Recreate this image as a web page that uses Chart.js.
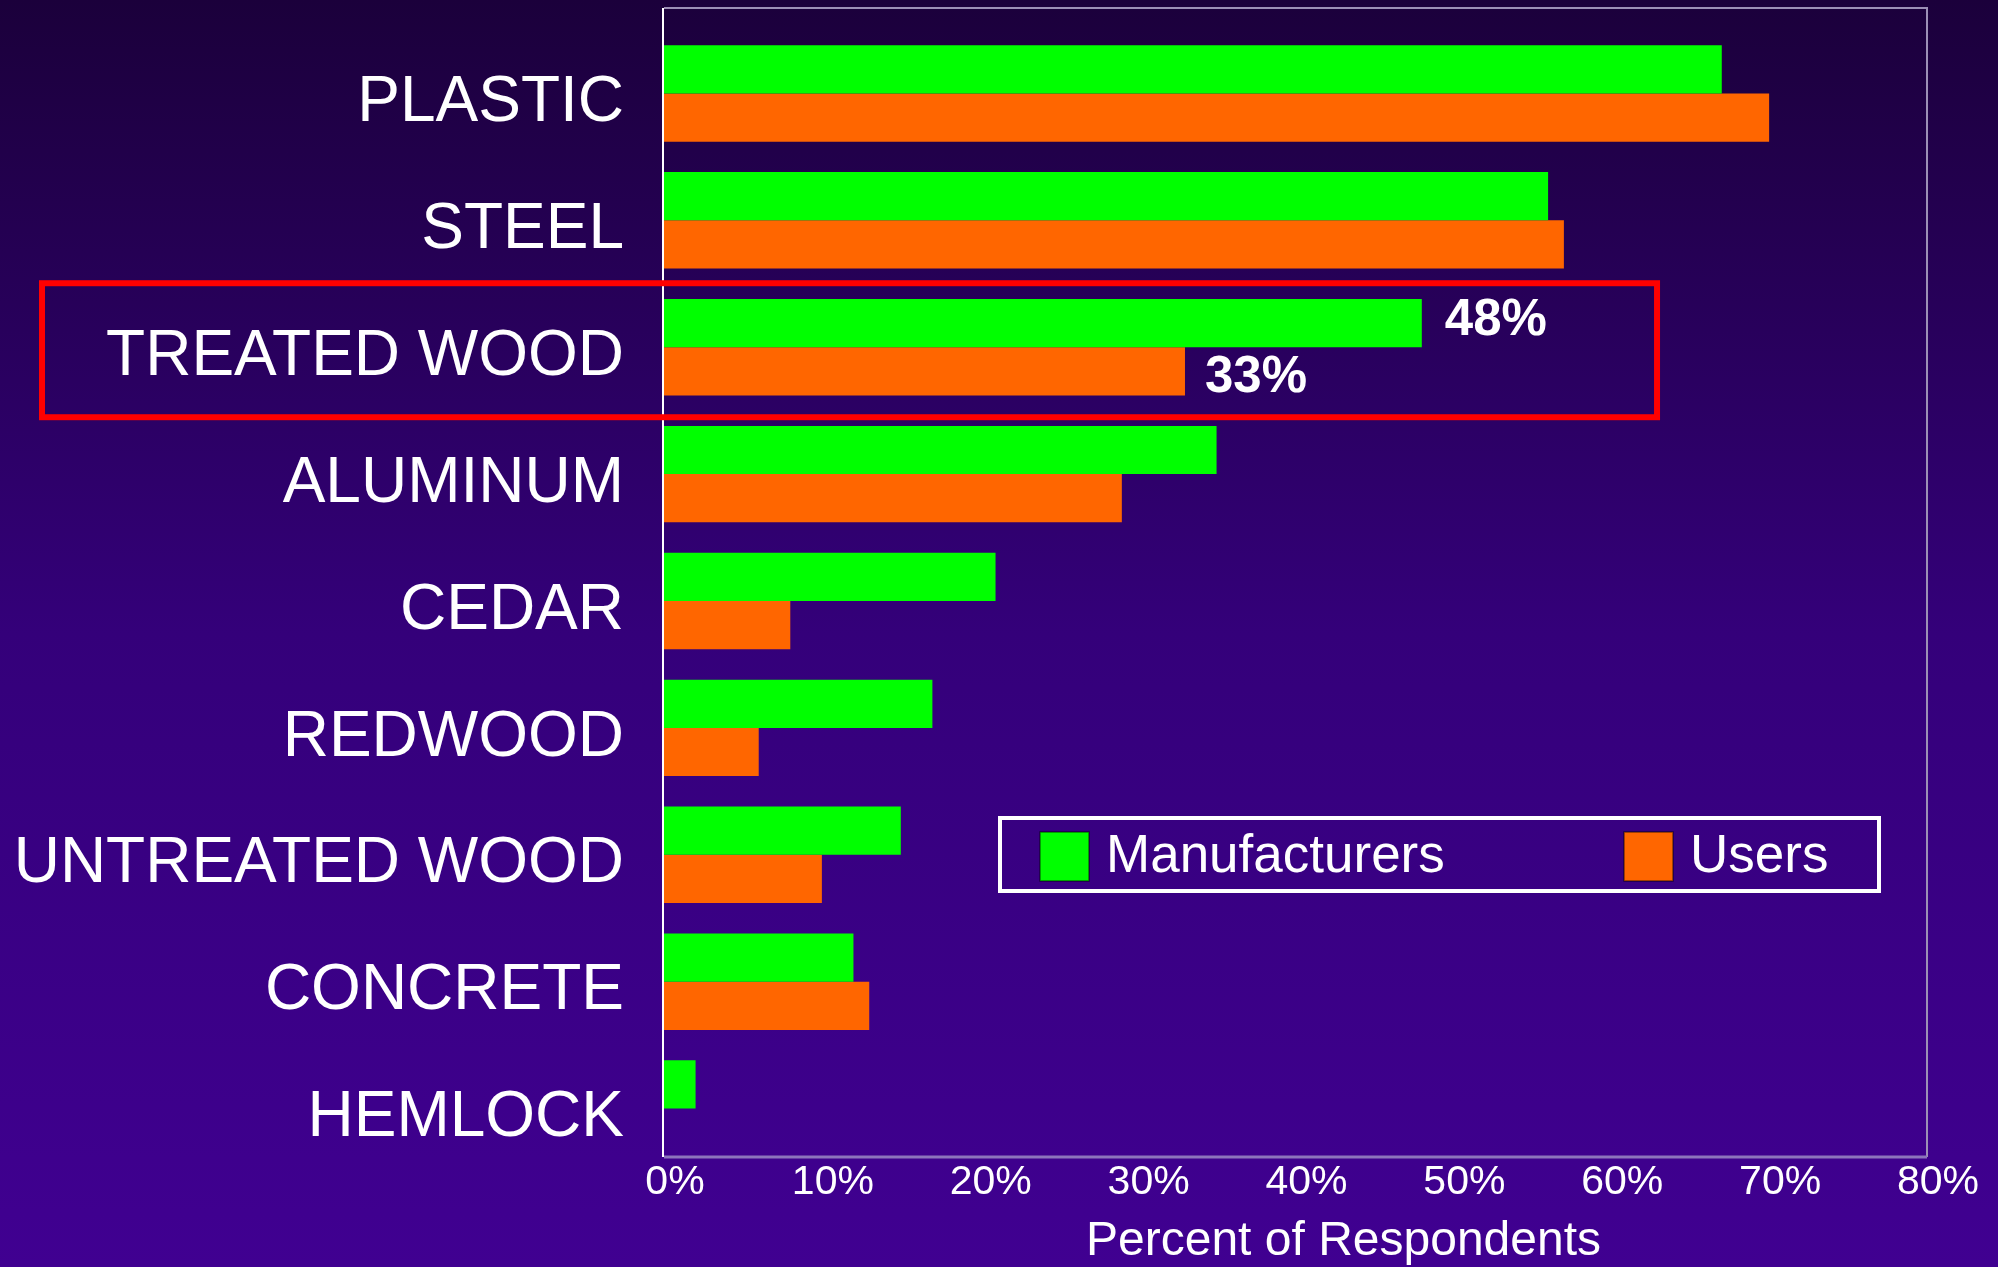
<!DOCTYPE html>
<html>
<head>
<meta charset="utf-8">
<title>Materials</title>
<script src="https://cdn.jsdelivr.net/npm/chart.js@4.4.1/dist/chart.umd.min.js"></script>
<style>
  body { margin: 0; background: #2a0066; }
  #myChart { display: block; }
</style>
</head>
<body>
<canvas id="myChart" width="1998" height="1267"></canvas>
<script>
const categories = [
    'PLASTIC',
    'STEEL',
    'TREATED WOOD',
    'ALUMINUM',
    'CEDAR',
    'REDWOOD',
    'UNTREATED WOOD',
    'CONCRETE',
    'HEMLOCK',
];

const manufacturers = [67, 56, 48, 35, 21, 17, 15, 12, 2];
const users = [70, 57, 33, 29, 8, 6, 10, 13, 0];

const tickLabels = ['0%', '10%', '20%', '30%', '40%', '50%', '60%', '70%', '80%'];

const axisTitle = 'Percent of Respondents';
const highlighted = 'TREATED WOOD';

const FONT = "'Liberation Sans', Arial, sans-serif";

// purple slide background
const backdrop = {
    id: 'backdrop',
    beforeDraw(chart) {
        const { ctx, width, height } = chart;
        const g = ctx.createLinearGradient(0, 0, 0, height);
        g.addColorStop(0, 'rgb(27, 0, 59)');
        g.addColorStop(0.5, 'rgb(52, 0, 122)');
        g.addColorStop(1, 'rgb(64, 0, 145)');
        ctx.save();
        ctx.fillStyle = g;
        ctx.fillRect(0, 0, width, height);
        ctx.restore();
    }
};

// plot frame: grey top/right/bottom, white value axis on the left,
// then the percent ticks and axis title under the frame
const frame = {
    id: 'frame',
    beforeDatasetsDraw(chart) {
        const { ctx, chartArea: a } = chart;
        const top = 8;
        const bottom = a.bottom - 15;
        ctx.save();
        ctx.strokeStyle = '#9c8fb6';
        ctx.lineWidth = 2;
        ctx.beginPath();
        ctx.moveTo(a.left, top);
        ctx.lineTo(a.right, top);
        ctx.lineTo(a.right, bottom);
        ctx.stroke();
        ctx.strokeStyle = '#8c74bc';
        ctx.lineWidth = 3;
        ctx.beginPath();
        ctx.moveTo(a.left, bottom);
        ctx.lineTo(a.right, bottom);
        ctx.stroke();
        ctx.strokeStyle = '#ffffff';
        ctx.lineWidth = 2;
        ctx.beginPath();
        ctx.moveTo(a.left - 1, top);
        ctx.lineTo(a.left - 1, bottom);
        ctx.stroke();
        ctx.restore();
    },
    afterDraw(chart) {
        const { ctx, chartArea: a } = chart;
        const xs = chart.scales.x;
        const bottom = a.bottom - 15;
        ctx.save();
        ctx.fillStyle = '#ffffff';
        ctx.textAlign = 'center';
        ctx.textBaseline = 'middle';
        ctx.font = '41px ' + FONT;
        xs.ticks.forEach((t, i) => {
            ctx.fillText(tickLabels[i], xs.getPixelForTick(i) + 11, bottom + 26);
        });
        ctx.font = '48px ' + FONT;
        ctx.fillText(axisTitle, (a.left + a.right) / 2 + 48, 1242);
        ctx.restore();
    }
};

// red box round one category plus its two value labels
const highlight = {
    id: 'highlight',
    afterDatasetsDraw(chart) {
        const { ctx, scales } = chart;
        const i = categories.indexOf(highlighted);
        const cy = scales.y.getPixelForTick(i) + 3;
        ctx.save();
        ctx.strokeStyle = '#ff0000';
        ctx.lineWidth = 6;
        ctx.strokeRect(42, cy - 67, scales.x.getPixelForValue(62.9) - 42, 134);

        ctx.fillStyle = '#ffffff';
        ctx.font = 'bold 51px ' + FONT;
        ctx.textBaseline = 'middle';
        ctx.textAlign = 'left';
        const g = chart.getDatasetMeta(0).data[i];
        const o = chart.getDatasetMeta(1).data[i];
        ctx.fillText(manufacturers[i] + '%', g.x + 23, g.y - 2);
        ctx.fillText(users[i] + '%', o.x + 20, o.y + 7);
        ctx.restore();
    }
};

// boxed legend inside the plot
const boxLegend = {
    id: 'boxLegend',
    afterDraw(chart) {
        const { ctx } = chart;
        ctx.save();
        ctx.strokeStyle = '#ffffff';
        ctx.lineWidth = 4;
        ctx.strokeRect(1000, 818, 879, 73);
        ctx.font = '53px ' + FONT;
        ctx.textBaseline = 'middle';
        ctx.textAlign = 'left';
        const spots = [1040, 1624];
        chart.data.datasets.forEach((ds, k) => {
            const x = spots[k];
            ctx.fillStyle = ds.backgroundColor;
            ctx.fillRect(x, 832, 49, 49);
            ctx.strokeStyle = 'rgba(0, 0, 0, 0.5)';
            ctx.lineWidth = 1.5;
            ctx.strokeRect(x, 832, 49, 49);
            ctx.fillStyle = '#ffffff';
            ctx.fillText(ds.label, x + 66, 857);
        });
        ctx.restore();
    }
};

const data = {
    labels: categories,
    datasets: [
        {
            label: 'Manufacturers',
            data: manufacturers,
            backgroundColor: '#00ff00',
            borderWidth: 0,
        },
        {
            label: 'Users',
            data: users,
            backgroundColor: '#ff6600',
            borderWidth: 0,
        },
    ],
};

const config = {
    type: 'bar',
    data: data,
    plugins: [backdrop, frame, highlight, boxLegend],
    options: {
        indexAxis: 'y',
        responsive: false,
        animation: false,
        categoryPercentage: 0.76,
        barPercentage: 1.0,
        layout: {
            padding: { left: 10, right: 71, top: 30, bottom: 0 }
        },
        plugins: {
            legend: { display: false },
            tooltip: { enabled: false },
        },
        scales: {
            x: {
                min: 0,
                max: 80,
                grid: { display: false, drawTicks: false },
                border: { display: false },
                ticks: {
                    stepSize: 10,
                    display: false,
                },
                afterFit: function (scale) {
                    scale.height = 95;
                    scale.paddingLeft = 0;
                    scale.paddingRight = 0;
                }
            },
            y: {
                grid: { display: false, drawTicks: false },
                border: { display: false },
                ticks: {
                    color: '#ffffff',
                    padding: 40,
                    labelOffset: 10,
                    font: { family: FONT, size: 64, lineHeight: 1 },
                },
                afterFit: function (scale) {
                    scale.width = 654;
                    scale.paddingTop = 0;
                    scale.paddingBottom = 0;
                }
            }
        }
    }
};

const myChart = new Chart(document.querySelector('#myChart').getContext('2d'), config);
</script>
</body>
</html>
